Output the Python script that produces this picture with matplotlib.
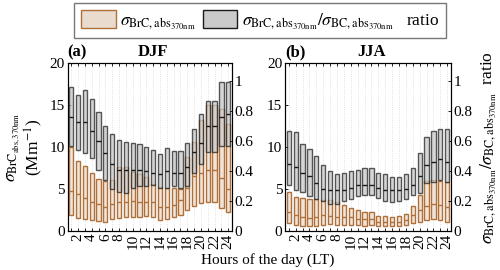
import matplotlib
matplotlib.use("Agg")
import matplotlib.pyplot as plt
from matplotlib.patches import Patch
import numpy as np

plt.rcParams['font.family'] = ['Liberation Serif', 'DejaVu Serif']
plt.rcParams['mathtext.fontset'] = 'stix'

hours = list(range(1, 25))
xtick_labels = [str(h) for h in range(2, 25, 2)]

# DJF: BrC absorption (Mm-1), box 25th / median / 75th
djf_brc_q3 = [10.0, 8.3, 7.7, 6.9, 6.2, 5.9, 6.1, 7.6, 7.6, 7.0, 6.8, 6.4,
              5.6, 5.2, 5.1, 5.1, 5.0, 8.8, 10.6, 13.2, 15.0, 15.0, 14.6, 12.8]
djf_brc_med = [4.8, 4.4, 3.9, 3.5, 3.2, 2.9, 3.2, 3.4, 3.5, 3.6, 3.5, 3.4,
               3.5, 2.8, 2.9, 3.1, 3.7, 5.1, 6.6, 6.9, 7.3, 7.3, 6.3, 5.0]
djf_brc_q1 = [1.9, 1.5, 1.4, 1.3, 1.2, 1.1, 1.4, 1.5, 1.7, 1.7, 1.7, 1.8,
              1.6, 1.3, 1.4, 1.6, 1.9, 2.5, 3.0, 3.3, 3.4, 3.4, 2.7, 2.2]
# DJF: BrC/BC ratio
djf_rat_q3 = [0.96, 0.91, 0.94, 0.885, 0.795, 0.70, 0.65, 0.61, 0.594, 0.588, 0.582, 0.56,
              0.538, 0.515, 0.554, 0.532, 0.532, 0.588, 0.683, 0.784, 0.868, 0.868, 0.997, 0.997]
djf_rat_med = [0.76, 0.73, 0.73, 0.67, 0.60, 0.52, 0.45, 0.41, 0.41, 0.41, 0.41, 0.40,
               0.39, 0.38, 0.40, 0.39, 0.39, 0.43, 0.53, 0.59, 0.70, 0.70, 0.76, 0.78]
djf_rat_q1 = [0.57, 0.54, 0.52, 0.49, 0.41, 0.34, 0.28, 0.26, 0.25, 0.29, 0.30, 0.30,
              0.31, 0.29, 0.29, 0.30, 0.29, 0.30, 0.39, 0.45, 0.53, 0.53, 0.57, 0.57]

# JJA: BrC absorption (Mm-1)
jja_brc_q3 = [4.7, 4.0, 3.9, 3.8, 3.8, 3.7, 3.7, 3.4, 3.1, 2.7, 2.5, 2.2,
              2.2, 1.8, 1.8, 1.7, 1.8, 2.0, 3.0, 4.3, 5.9, 6.1, 6.0, 5.8]
jja_brc_med = [2.2, 1.9, 1.6, 1.5, 1.6, 1.9, 1.8, 1.7, 1.7, 1.6, 1.4, 1.4,
               1.4, 1.1, 1.0, 1.0, 1.1, 1.3, 1.9, 2.5, 3.0, 3.2, 3.1, 2.8]
jja_brc_q1 = [0.9, 0.7, 0.6, 0.6, 0.6, 0.7, 0.8, 0.7, 0.7, 0.7, 0.7, 0.6,
              0.7, 0.6, 0.6, 0.6, 0.6, 0.7, 0.9, 1.1, 1.3, 1.4, 1.3, 1.1]
# JJA: BrC/BC ratio
jja_rat_q3 = [0.67, 0.66, 0.58, 0.55, 0.50, 0.44, 0.40, 0.38, 0.39, 0.40, 0.41, 0.42,
              0.42, 0.39, 0.38, 0.36, 0.36, 0.38, 0.42, 0.52, 0.63, 0.67, 0.68, 0.68]
jja_rat_med = [0.45, 0.43, 0.39, 0.37, 0.32, 0.28, 0.27, 0.27, 0.27, 0.29, 0.31, 0.31,
               0.31, 0.29, 0.27, 0.27, 0.27, 0.28, 0.31, 0.37, 0.44, 0.46, 0.48, 0.46]
jja_rat_q1 = [0.31, 0.27, 0.26, 0.23, 0.21, 0.20, 0.18, 0.18, 0.20, 0.21, 0.23, 0.24,
              0.24, 0.22, 0.20, 0.19, 0.20, 0.21, 0.24, 0.25, 0.32, 0.33, 0.34, 0.33]

TAN_FACE = '#f0e4d8'
TAN_EDGE = '#b0703a'
GRAY_FACE = '#c8c8c8'
GRAY_EDGE = '#1a1a1a'
BW = 0.62
TICK_FS = 11

fig = plt.figure(figsize=(5.0, 2.7), dpi=100)


def boxes(ax, q1, med, q3, face, edge, alpha):
    x = np.array(hours)
    q1 = np.array(q1); q3 = np.array(q3); med = np.array(med)
    ax.bar(x, q3 - q1, bottom=q1, width=BW, color=face, edgecolor=edge,
           linewidth=1.0, alpha=alpha, zorder=3)
    ax.hlines(med, x - BW / 2, x + BW / 2, colors=edge, linewidth=1.0, zorder=4)


def panel(rect, brc, rat, letter, season, left_label, right_label):
    ax = fig.add_axes(rect)
    for h in hours:
        ax.axvline(h, color='#d8d8d8', linestyle=':', linewidth=0.6, zorder=0)
    boxes(ax, *brc, TAN_FACE, TAN_EDGE, 1.0)
    ax.set_xlim(0.45, 24.55)
    ax.set_ylim(0, 20)
    ax.set_yticks([0, 5, 10, 15, 20])
    ax.set_xticks(hours)
    ax.set_xticklabels([str(h) if h % 2 == 0 else '' for h in hours], rotation=90)
    ax.tick_params(axis='both', direction='in', labelsize=TICK_FS, length=2.5,
                   top=True, width=0.6, pad=2)
    ax2 = ax.twinx()
    boxes(ax2, *rat, GRAY_FACE, GRAY_EDGE, 0.72)
    ax2.set_ylim(0, 1.12)
    ax2.set_yticks([0, 0.2, 0.4, 0.6, 0.8, 1.0])
    ax2.set_yticklabels(['0', '0.2', '0.4', '0.6', '0.8', '1'])
    ax2.tick_params(axis='y', direction='in', labelsize=TICK_FS, length=2.5, width=0.6, pad=2)
    for a in (ax, ax2):
        for s in a.spines.values():
            s.set_linewidth(0.8)
    ax.text(0.0, 1.02, letter, transform=ax.transAxes, fontsize=12,
            fontweight='bold', ha='left', va='bottom')
    ax.text(0.52, 1.02, season, transform=ax.transAxes, fontsize=12,
            fontweight='bold', ha='center', va='bottom')
    if left_label:
        ax.set_ylabel(r'$\sigma_{\mathrm{BrC}_{\mathrm{abs,370nm}}}$' + '\n' + r'(Mm$^{-1}$)',
                      fontsize=12.5, labelpad=3, linespacing=1.0)
    if right_label:
        ax2.set_ylabel(r'$\sigma_{\mathrm{BrC,abs}_{\mathrm{370nm}}}/\sigma_{\mathrm{BC,abs}_{\mathrm{370nm}}}$'
                       + '  ratio', fontsize=12.5, rotation=90, labelpad=4)
    return ax, ax2


axA, _ = panel([0.135, 0.145, 0.329, 0.62],
               (djf_brc_q1, djf_brc_med, djf_brc_q3),
               (djf_rat_q1, djf_rat_med, djf_rat_q3), '(a)', 'DJF', True, False)
axB, _ = panel([0.570, 0.145, 0.332, 0.62],
               (jja_brc_q1, jja_brc_med, jja_brc_q3),
               (jja_rat_q1, jja_rat_med, jja_rat_q3), '(b)', 'JJA', False, True)

fig.text(0.536, 0.01, 'Hours of the day (LT)', ha='center', va='bottom', fontsize=11)

handles = [Patch(facecolor='#e9dccf', edgecolor=TAN_EDGE, linewidth=1.0),
           Patch(facecolor='#cbcbcb', edgecolor=GRAY_EDGE, linewidth=1.0)]
labels = [r'$\sigma_{\mathrm{BrC,abs}_{\mathrm{370nm}}}$',
          r'$\sigma_{\mathrm{BrC,abs}_{\mathrm{370nm}}}/\sigma_{\mathrm{BC,abs}_{\mathrm{370nm}}}$   ratio']
leg = fig.legend(handles, labels, loc='upper center', bbox_to_anchor=(0.52, 0.995),
                 ncol=2, fontsize=12.5, frameon=True, fancybox=False,
                 handlelength=2.0, handleheight=1.25, columnspacing=0.4,
                 handletextpad=0.25, borderpad=0.4, borderaxespad=0.1)
leg.get_frame().set_edgecolor('#555555')
leg.get_frame().set_linewidth(1.0)

fig.savefig('out.png', dpi=100)
